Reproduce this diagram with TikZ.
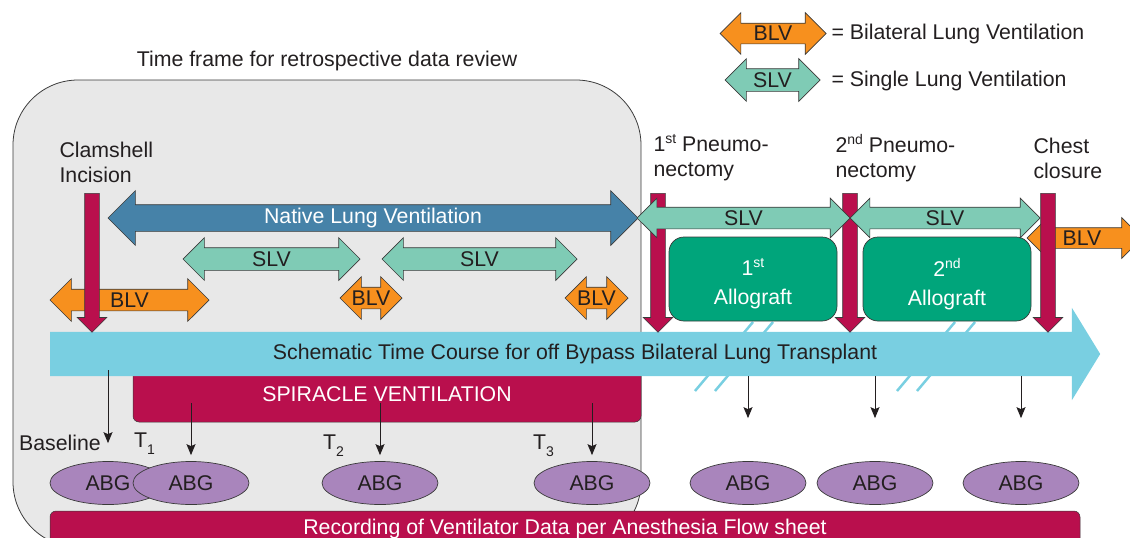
\documentclass[tikz,border=0pt]{standalone}
\usepackage{fontspec}
\setmainfont{Liberation Sans}
\usetikzlibrary{shapes.arrows,shapes.geometric,arrows.meta,positioning}

\definecolor{ink}{HTML}{231F20}
\definecolor{edge}{HTML}{3A3A3A}
\definecolor{crimson}{HTML}{B90F4D}
\definecolor{blvorange}{HTML}{F7901E}
\definecolor{slvteal}{HTML}{7FCBB5}
\definecolor{nlvblue}{HTML}{4682A8}
\definecolor{graftgreen}{HTML}{00A57B}
\definecolor{coursecyan}{HTML}{79CFE1}
\definecolor{abgpurple}{HTML}{A985BC}
\definecolor{framegray}{HTML}{E8E8E8}

% small raised / lowered text (1st, T_1 ...)
\newcommand{\upsc}[1]{\raisebox{8pt}{\fontsize{14}{14}\selectfont #1}}
\newcommand{\dnsc}[1]{\raisebox{-7pt}{\fontsize{14}{14}\selectfont #1}}

\begin{document}
\begin{tikzpicture}[x=1pt, y=-1pt, font=\fontsize{21.3}{25}\selectfont, text=ink,
  vent/.style={double arrow, double arrow tip angle=90, inner sep=0pt, draw=edge, line width=.7pt},
  blv/.style={vent, fill=blvorange, inner ysep=10.5pt, double arrow head extend=10.5pt},
  slv/.style={vent, fill=slvteal, inner ysep=11pt, double arrow head extend=10pt},
  evt/.style={single arrow, single arrow tip angle=90, rotate=-90, anchor=tail, fill=crimson,
    draw=edge, line width=.6pt, inner ysep=7pt, inner xsep=0pt, single arrow head extend=7.5pt,
    minimum height=139pt},
  abg/.style={ellipse, fill=abgpurple, draw=edge, line width=.7pt, minimum width=116pt,
    minimum height=43pt, inner sep=0pt},
  graft/.style={rectangle, rounded corners=15pt, fill=graftgreen, draw=edge, line width=.7pt,
    minimum width=168pt, minimum height=84pt},
  grafttxt/.style={align=center, text=white, font=\fontsize{21.3}{29}\selectfont},
  bar/.style={rectangle, rounded corners=6pt, fill=crimson, draw=edge, line width=.5pt, text=white},
  samp/.style={-{Stealth[length=11pt,width=9pt,inset=2pt]}, line width=1pt, draw=ink},
  brk/.style={coursecyan, line width=2.5pt},
  evtlbl/.style={align=left, anchor=west}
]
\useasboundingbox (0,0) rectangle (1130,538);
\clip (0,0) rectangle (1130,538);

% retrospective review window
\draw[fill=framegray, draw=edge, line width=.8pt, rounded corners=65pt] (13,80) rectangle (641,547);
\node (frametitle) at (327,61) {Time frame for retrospective data review};

% time breaks behind the course arrow
\foreach \x in {695,715,897,917}
  \draw[brk] (\x,391) -- ++(58,-69);

% spiracle ventilation and time course
\node[bar, minimum width=508pt, minimum height=56pt] (spir) at (387,394) {SPIRACLE VENTILATION};
\node[single arrow, fill=coursecyan, single arrow tip angle=117, single arrow head extend=24pt,
  inner ysep=22pt, inner xsep=0pt, minimum height=1050pt, anchor=tail] (course) at (50,354) {};
\node (coursetxt) at (575,354) {Schematic Time Course for off Bypass Bilateral Lung Transplant};

% allografts
\node[graft] (graft1) at (753,279) {};
\node[graft] (graft2) at (947,279) {};
\node[grafttxt] (graft1txt) at (753,284) {1\upsc{st}\\Allograft};
\node[grafttxt] (graft2txt) at (947,284) {2\upsc{nd}\\Allograft};

% pneumonectomies
\node[evt] (pn1) at (658,193) {};
\node[evt] (pn2) at (850,193) {};

% ventilation phases
\node[vent, fill=nlvblue, inner ysep=13pt, double arrow head extend=14pt, minimum height=530pt]
  (native) at (373,218) {};
\node[text=white] (nativetxt) at (native) {Native Lung Ventilation};
\node[slv, minimum height=177pt] (slv1) at (271.5,259) {};
\node[slv, minimum height=195pt] (slv2) at (479.5,259) {};
\node[blv, minimum height=159pt] (blv1) at (129.5,300) {};
\node[blv, minimum height=62pt] (blv2) at (371,298) {};
\node[blv, minimum height=63pt] (blv3) at (596.5,298) {};
\node[slv, inner ysep=10.5pt, double arrow head extend=9pt, minimum height=213pt] (slv3) at (743.5,218) {};
\node[slv, inner ysep=10.5pt, double arrow head extend=9pt, minimum height=190pt] (slv4) at (945,218) {};
\node[blv, inner ysep=10pt, double arrow head extend=10pt, minimum height=115pt] (blv4) at (1084.5,238) {};
\foreach \n in {slv1,slv2,slv3,slv4} \node (\n txt) at (\n) {SLV};
\foreach \n in {blv1,blv2,blv3} \node (\n txt) at (\n) {BLV};
\node (blv4txt) at (1082,238) {BLV};

% incision and closure
\node[evt] (clam) at (92,193) {};
\node[evt] (chest) at (1048,193) {};

% event labels
\node[evtlbl] (clamtxt) at (56,162) {Clamshell\\Incision};
\node[evtlbl] (pn1txt) at (650,158) {1\upsc{st} Pneumo-\\nectomy};
\node[evtlbl] (pn2txt) at (832,158) {2\upsc{nd} Pneumo-\\nectomy};
\node[evtlbl] (chesttxt) at (1030,158) {Chest\\closure};

% legend
\node[blv, inner ysep=10pt, minimum height=106pt] (legblv) at (773,33.5) {};
\node (legblvtxt) at (legblv) {BLV};
\node[slv, minimum height=95pt] (legslv) at (772.5,80) {};
\node (legslvtxt) at (legslv) {SLV};
\node[anchor=west] (legblvdef) at (828,34) {= Bilateral Lung Ventilation};
\node[anchor=west] (legslvdef) at (828,81) {= Single Lung Ventilation};

% blood gas samples
\foreach \i/\x in {0/108,1/191,2/380,3/592,4/748,5/875,6/1021}
  \node[abg] (abg\i) at (\x,483) {ABG};
\coordinate (s0) at (108,370);
\draw[samp, shorten >=18pt] (s0) -- (abg0);
\foreach \i/\x in {1/191,2/380,3/592} {
  \coordinate (s\i) at (\x,403);
  \draw[samp, shorten >=6pt] (s\i) -- (abg\i);
}
\foreach \i/\x in {4/748,5/875,6/1021} {
  \coordinate (s\i) at (\x,376);
  \draw[samp, shorten >=43pt] (s\i) -- (abg\i);
}
\node[anchor=east, inner sep=1pt] (basetxt) at (102,443) {Baseline};
\node[anchor=west, inner sep=1pt] (t1txt) at (133,444) {T\dnsc{1}};
\node[anchor=west, inner sep=1pt] (t2txt) at (322,446) {T\dnsc{2}};
\node[anchor=west, inner sep=1pt] (t3txt) at (532,446) {T\dnsc{3}};

% ventilator record
\node[bar, minimum width=1030pt, minimum height=36pt] (record) at (565,529)
  {Recording of Ventilator Data per Anesthesia Flow sheet};
\end{tikzpicture}
\end{document}
